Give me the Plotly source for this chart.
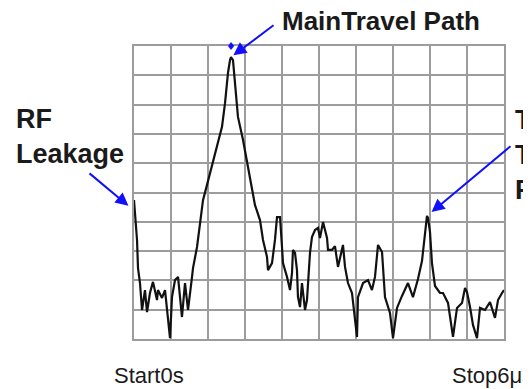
import plotly.graph_objects as go

# time axis (us) and response (grid divisions, 0 = bottom, 10 = top)
time_us = [0.000, 0.032, 0.049, 0.065, 0.097, 0.130, 0.178, 0.211, 0.259, 0.308,
           0.373, 0.389, 0.454, 0.503, 0.535, 0.584, 0.616, 0.665, 0.714, 0.778,
           0.827, 0.876, 0.941, 0.957, 1.022, 1.070, 1.119, 1.184, 1.232, 1.314,
           1.427, 1.476, 1.524, 1.557, 1.573, 1.605, 1.638, 1.686, 1.768, 1.849,
           1.881, 1.962, 2.043, 2.092, 2.157, 2.173, 2.238, 2.286, 2.319, 2.368,
           2.400, 2.416, 2.481, 2.530, 2.562, 2.578, 2.611, 2.643, 2.659, 2.692,
           2.724, 2.741, 2.773, 2.805, 2.822, 2.854, 2.886, 2.935, 2.984, 3.016,
           3.065, 3.130, 3.146, 3.211, 3.259, 3.308, 3.389, 3.422, 3.470, 3.535,
           3.616, 3.632, 3.714, 3.795, 3.859, 3.908, 3.957, 4.022, 4.070, 4.151,
           4.200, 4.265, 4.346, 4.443, 4.524, 4.605, 4.670, 4.719, 4.751, 4.768,
           4.800, 4.832, 4.881, 4.962, 5.011, 5.092, 5.157, 5.173, 5.238, 5.319,
           5.368, 5.400, 5.449, 5.497, 5.562, 5.611, 5.692, 5.773, 5.854, 5.903,
           5.968, 6.000]
response = [4.74, 3.89, 3.38, 2.42, 1.91, 0.99, 1.67, 0.92, 1.57, 1.95,
            1.33, 1.67, 1.40, 1.67, 0.99, 0.03, 1.43, 2.01, 2.12, 0.75,
            1.91, 0.99, 2.12, 2.42, 3.14, 3.96, 4.74, 5.26, 5.67, 6.35,
            7.24, 8.05, 9.08, 9.52, 9.62, 9.52, 8.74, 7.58, 6.79, 5.87,
            5.43, 4.57, 4.06, 3.38, 2.80, 2.35, 2.59, 3.38, 4.16, 4.16,
            3.14, 2.59, 2.12, 1.67, 2.25, 3.04, 2.94, 2.35, 1.43, 1.09,
            1.91, 1.57, 0.99, 1.33, 2.01, 2.94, 3.48, 3.72, 3.79, 3.45,
            3.99, 3.45, 3.04, 3.04, 3.17, 2.46, 3.21, 2.46, 1.91, 1.57,
            0.07, 1.43, 1.91, 2.01, 1.67, 2.12, 3.21, 2.97, 1.43, 0.89,
            0.03, 1.06, 1.47, 1.91, 1.43, 2.05, 2.66, 3.65, 4.20, 4.13,
            3.65, 2.59, 1.81, 1.57, 1.57, 1.23, 0.24, 0.07, 1.06, 1.23,
            1.74, 1.60, 1.09, 0.48, 0.03, 1.06, 0.99, 1.26, 0.72, 1.33,
            1.57, 1.67]

start_label = "Start0s"
stop_label = "Stop6μs"

grid = "#9c9c9c"
blue = "#1010ff"
txt = "#1a1a1a"

# points the arrows refer to
i_main = response.index(max(response))
late = [k for k in range(len(time_us)) if time_us[k] > 4.5]
i_triple = max(late, key=lambda k: response[k])

fig = go.Figure()
fig.add_trace(go.Scatter(x=time_us, y=response, mode="lines",
                         line=dict(color="#111111", width=2.2),
                         showlegend=False, hoverinfo="skip"))

fig.update_xaxes(range=[0, 6], dtick=0.6, showgrid=True, gridcolor=grid,
                 gridwidth=2, showticklabels=False, zeroline=False,
                 showline=True, mirror=True, linecolor=grid, linewidth=2,
                 ticks="")
fig.update_yaxes(range=[0, 10], dtick=1, showgrid=True, gridcolor=grid,
                 gridwidth=2, showticklabels=False, zeroline=False,
                 showline=True, mirror=True, linecolor=grid, linewidth=2,
                 ticks="")

bold = dict(family="Liberation Sans, Arial, sans-serif", size=27, color=txt)
plain = dict(family="Liberation Sans, Arial, sans-serif", size=22, color=txt)

fig.add_annotation(xref="paper", yref="paper", x=0.395, y=1.084,
                   text="<b>MainTravel Path</b>", showarrow=False,
                   xanchor="left", yanchor="middle",
                   font=dict(bold, size=26))
fig.add_annotation(xref="paper", yref="paper", x=-0.324, y=0.692,
                   text="<b>RF<br>Leakage</b>", showarrow=False, align="left",
                   xanchor="left", yanchor="middle", font=bold)
fig.add_annotation(xref="paper", yref="paper", x=1.024, y=0.628,
                   text="<b>Triple<br>Travel<br>Path</b>", showarrow=False,
                   align="left", xanchor="left", yanchor="middle", font=bold)
fig.add_annotation(xref="paper", yref="paper", x=-0.059, y=-0.126,
                   text=start_label, showarrow=False,
                   xanchor="left", yanchor="middle", font=plain)
fig.add_annotation(xref="paper", yref="paper", x=0.854, y=-0.126,
                   text=stop_label, showarrow=False,
                   xanchor="left", yanchor="middle", font=plain)

arrow = dict(showarrow=True, arrowhead=2, arrowsize=1.3, arrowwidth=2,
             arrowcolor=blue, text="")
fig.add_annotation(x=time_us[i_main], y=response[i_main], ax=44, ay=-33,
                   standoff=3, **arrow)
fig.add_annotation(x=time_us[0], y=response[0], ax=-42, ay=-35,
                   xshift=-4, yshift=-7, standoff=2, **arrow)
fig.add_annotation(x=time_us[i_triple], y=response[i_triple], ax=85, ay=-71,
                   standoff=6, **arrow)
# marker symbol above the main peak
fig.add_annotation(x=time_us[i_main], y=response[i_main], text="♦",
                   showarrow=False, yshift=11,
                   font=dict(family="DejaVu Sans", size=11, color=blue))

# the page body adds an 8px offset, so margins are shifted to compensate
fig.update_layout(width=531, height=389,
                  margin=dict(l=126, r=35, t=38, b=58),
                  paper_bgcolor="white", plot_bgcolor="white")

fig.write_html("out.html")
